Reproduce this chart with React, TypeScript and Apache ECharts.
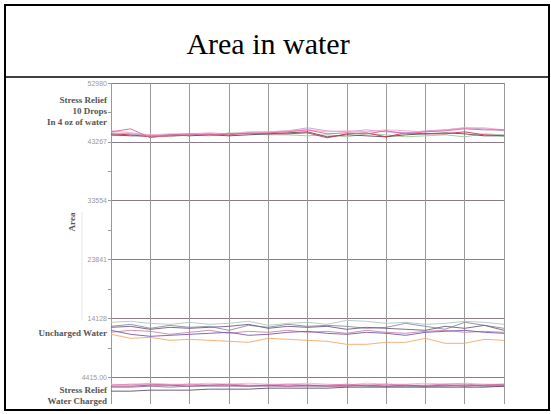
import React, { useEffect, useRef } from "react";
import * as echarts from "echarts";

// ---- data ----
const xPoints = Array.from({ length: 21 }, (_, i) => i);
const tickValues = [52980, 43267, 33554, 23841, 14128, 4415];
const tickLabels = ["52980", "43267", "33554", "23841", "14128", "4415.00"];

// Stress Relief 10 drops in 4 oz of water
const top1 = [44917, 45412, 43927, 44422, 44587, 44422, 44587, 44587, 44752, 44917, 45247, 44587, 44752, 44587, 45082, 44587, 44917, 45082, 45412, 45247, 45247];
const top2 = [44587, 44422, 44092, 44257, 44422, 44587, 44422, 44752, 44587, 44587, 44752, 43927, 44587, 44752, 44092, 44752, 44587, 44587, 44917, 44422, 44257];
const top3 = [44422, 44257, 44257, 44422, 44257, 44422, 44257, 44422, 44587, 44752, 44917, 44092, 44422, 44257, 44092, 44422, 44587, 44752, 44587, 44257, 44257];
const top4 = [44257, 44587, 44422, 44092, 44422, 44257, 44752, 44587, 44422, 44422, 44257, 44422, 44092, 44587, 44422, 44092, 44257, 44422, 44092, 44587, 44422];
const top5 = [44752, 44587, 44257, 44422, 44422, 44587, 44587, 44752, 44917, 45082, 45577, 45082, 44917, 45247, 44917, 44752, 45082, 45247, 45577, 45412, 45082];
const top6 = [45082, 44752, 44422, 44587, 44587, 44752, 44587, 44917, 44917, 45082, 45247, 44917, 45082, 44917, 45247, 45082, 44917, 45247, 45577, 45577, 45247];

// Uncharged water
const mid1 = [13468, 13633, 13303, 13138, 13468, 13138, 13303, 13633, 12973, 13303, 13468, 13138, 13798, 13633, 13303, 13468, 13138, 13303, 13633, 13468, 13138];
const mid2 = [12808, 13138, 12478, 12973, 12643, 12808, 12148, 12973, 12643, 13138, 12808, 12973, 12808, 12478, 12643, 13303, 12808, 12313, 13468, 12973, 12478];
const mid3 = [12643, 12808, 12313, 12643, 12478, 12643, 12808, 13138, 12478, 12808, 12643, 12808, 12313, 12643, 12478, 12313, 12148, 12808, 12478, 12973, 12148];
const mid4 = [11818, 12148, 11983, 11488, 11818, 12148, 11653, 11983, 11818, 12148, 11818, 11983, 11653, 12148, 11818, 11653, 11983, 12148, 11818, 11983, 11818];
const mid5 = [12148, 11488, 11158, 11323, 11488, 11653, 11818, 11323, 11488, 11818, 11983, 11653, 11488, 11818, 11653, 11323, 11818, 11983, 12148, 11818, 11653];
const mid6 = [11488, 10828, 10993, 10498, 10663, 10498, 10333, 10168, 10828, 10663, 10498, 10333, 9838, 9838, 10168, 10168, 10828, 10003, 10003, 10663, 10498];

// Stress relief water charged
const low1 = [3095, 3260, 3260, 3095, 3260, 3095, 3260, 3095, 3095, 3260, 3095, 3095, 3260, 3095, 3260, 3095, 3095, 3260, 3260, 3095, 3260];
const low2 = [2930, 2930, 3095, 3095, 2930, 3095, 3095, 2930, 3095, 2930, 3095, 2930, 2930, 3095, 2930, 3095, 2930, 3095, 2930, 3095, 3095];
const low3 = [2765, 2765, 2930, 2765, 2930, 2930, 2930, 2930, 2930, 2930, 2930, 2930, 3095, 2930, 2930, 2930, 2930, 2930, 3095, 2930, 2930];
const low4 = [2105, 2105, 2270, 2270, 2270, 2435, 2435, 2435, 2600, 2600, 2600, 2600, 2765, 2765, 2765, 2765, 2765, 2765, 2765, 2765, 2930];
const low5 = [3260, 3095, 3425, 3260, 3260, 3425, 3260, 3425, 3260, 3260, 3425, 3260, 3095, 3425, 3260, 3260, 3425, 3260, 3425, 3260, 3260];

const seriesDefs: { data: number[]; color: string }[] = [
  { data: top4, color: "#9cc89c" },
  { data: top3, color: "#5a4e52" },
  { data: top2, color: "#cc3355" },
  { data: top5, color: "#c79ae0" },
  { data: top6, color: "#f2a6c6" },
  { data: top1, color: "#e0609a" },
  { data: mid1, color: "#b0c8c8" },
  { data: mid2, color: "#8c8c9c" },
  { data: mid3, color: "#6e5e7e" },
  { data: mid4, color: "#c888a8" },
  { data: mid5, color: "#7a58a8" },
  { data: mid6, color: "#f2a868" },
  { data: low5, color: "#f2b4d2" },
  { data: low1, color: "#e080b0" },
  { data: low2, color: "#c04080" },
  { data: low3, color: "#9070b0" },
  { data: low4, color: "#605060" },
];

export default function App() {
  const ref = useRef<HTMLDivElement>(null);
  useEffect(() => {
    if (!ref.current) return;
    const chart = echarts.init(ref.current, null, { renderer: "svg" });
    const labelFont = "Liberation Serif";
    const sideText = (text: string, y: number) => ({
      type: "text",
      z: 100,
      x: 107,
      y,
      style: {
        text,
        fill: "#555",
        font: `bold 9px '${labelFont}'`,
        textAlign: "right",
        textVerticalAlign: "middle",
      },
    });
    chart.setOption({
      animation: false,
      backgroundColor: "#fff",
      grid: { left: 111, right: 47, top: 83, bottom: 4, containLabel: false },
      xAxis: {
        type: "value",
        min: 0,
        max: 20,
        interval: 2,
        axisLabel: { show: false },
        axisTick: { show: false },
        axisLine: { show: false },
        splitLine: { show: true, lineStyle: { color: "#9a9a9a", width: 1 } },
      },
      yAxis: {
        type: "value",
        min: -5298,
        max: 52980,
        interval: 9713,
        axisLine: { show: false },
        axisTick: { show: true, length: 3, lineStyle: { color: "#999" } },
        minorTick: { show: true, splitNumber: 2, length: 3, lineStyle: { color: "#999" } },
        splitLine: { show: true, lineStyle: { color: "#8a7c86", width: 1 } },
        axisLabel: {
          fontSize: 7,
          color: "#a09898",
          fontFamily: "Liberation Sans",
          margin: 4,
          formatter: (v: number) => {
            const i = tickValues.findIndex((t) => Math.abs(t - v) < 1);
            return i >= 0 ? tickLabels[i] : "";
          },
        },
      },
      series: seriesDefs.map((s) => ({
        type: "line",
        data: xPoints.map((x, i) => [x, s.data[i]]),
        showSymbol: false,
        lineStyle: { color: s.color, width: 1, opacity: 0.9 },
        itemStyle: { color: s.color },
        z: 3,
      })),
      graphic: [
        { type: "rect", z: 99, shape: { x: 0, y: 404, width: 551, height: 40 }, style: { fill: "#fff" } },
        { type: "rect", z: 99, shape: { x: 0, y: 0, width: 551, height: 78 }, style: { fill: "#fff" } },
        {
          type: "rect",
          z: 100,
          shape: { x: 5, y: 5, width: 544, height: 405 },
          style: { fill: "none", stroke: "#000", lineWidth: 2 },
        },
        {
          type: "line",
          z: 100,
          shape: { x1: 5, y1: 77, x2: 549, y2: 77 },
          style: { stroke: "#000", lineWidth: 1.5 },
        },
        {
          type: "text",
          z: 100,
          x: 268,
          y: 43,
          style: {
            text: "Area in water",
            fill: "#000",
            font: `30px '${labelFont}'`,
            textAlign: "center",
            textVerticalAlign: "middle",
          },
        },
        sideText("Stress Relief", 100),
        sideText("10 Drops", 111),
        sideText("In 4 oz of water", 122),
        sideText("Uncharged Water", 333),
        sideText("Stress Relief", 390),
        sideText("Water Charged", 401),
        {
          type: "text",
          z: 100,
          x: 72,
          y: 222,
          rotation: Math.PI / 2,
          style: {
            text: "Area",
            fill: "#555",
            font: `bold 9px '${labelFont}'`,
            textAlign: "center",
            textVerticalAlign: "middle",
          },
        },
        {
          type: "line",
          z: 50,
          shape: { x1: 82, y1: 212, x2: 82, y2: 320 },
          style: { stroke: "#e6e6e6", lineWidth: 1 },
        },
      ],
    });
    return () => chart.dispose();
  }, []);
  return (
    <div style={{ position: "absolute", left: 0, top: 0, width: 551, height: 414, overflow: "hidden", background: "#fff" }}>
      <div ref={ref} style={{ width: 551, height: 440 }} />
    </div>
  );
}
